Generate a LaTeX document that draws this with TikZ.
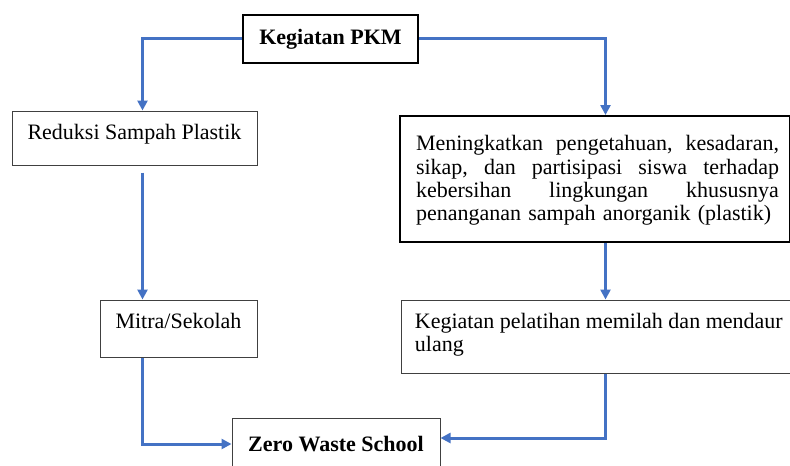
\documentclass[tikz,border=0pt]{standalone}
\usepackage{fontspec}
\setmainfont{Liberation Serif}
\usetikzlibrary{calc}
\usetikzlibrary{arrows.meta}

\definecolor{flowblue}{HTML}{4472C4}
\newcommand{\spreadline}[1]{\makebox[181.5pt][l]{#1}}

\begin{document}
\begin{tikzpicture}[x=0.5pt,y=-0.5pt,
  font=\fontsize{11}{11.7}\selectfont,
  frame/.style={draw=black!75, line width=0.5pt, inner sep=0pt},
  thickframe/.style={draw=black, line width=1pt, inner sep=0pt},
  txt/.style={inner sep=0pt},
  flow/.style={flowblue, line width=1.5pt, -{Triangle[length=5pt,width=5pt]}}]
\useasboundingbox (0,0) rectangle (790,465);

% boxes
\node[thickframe, minimum width=87.5pt, minimum height=24pt] (pkm) at (330.5,39) {\bfseries Kegiatan PKM};
\node[frame, minimum width=122.5pt, minimum height=27pt] (reduksi) at (134.5,138) {};
\node[thickframe, minimum width=195pt, minimum height=63pt] (tujuan) at (594.5,179) {};
\node[frame, minimum width=78.5pt, minimum height=28.5pt] (mitra) at (178.5,328.5) {};
\node[frame, minimum width=196pt, minimum height=36.5pt] (latih) at (597,336.5) {};
\node[frame, minimum width=104pt, minimum height=26pt] (zero) at (336,444) {\bfseries Zero Waste School};

% texts
\node[txt, anchor=base] (reduksiTxt) at ($(reduksi.north)+(0,29)$) {Reduksi Sampah Plastik};
\node[txt, anchor=base] (mitraTxt) at ($(mitra.north)+(0,29)$) {Mitra/Sekolah};
\node[txt, align=left, text width=181.5pt] (tujuanTxt) at ($(tujuan.center)+(3,1.5)$)
  {\spreadline{Meningkatkan\hfill pengetahuan,\hfill kesadaran,}\\
   \spreadline{sikap,\hfill dan\hfill partisipasi\hfill siswa\hfill terhadap}\\
   \spreadline{kebersihan\hfill lingkungan\hfill khususnya}\\
   penanganan sampah anorganik (plastik)};
\node[txt, align=left, anchor=north west] (latihTxt) at ($(latih.north west)+(14,13)$)
  {Kegiatan pelatihan memilah dan mendaur\\ulang};

% arrows
\draw[flow] (pkm.west) -| ($(reduksi.north west)+(131,0)$);
\draw[flow] (pkm.east) -| ($(tujuan.north west)+(207,0)$);
\draw[flow] ($(reduksi.south west)+(131,7)$) -- ($(mitra.north west)+(43,0)$);
\draw[flow] ($(tujuan.south west)+(207,0)$) -- ($(latih.north west)+(205,0)$);
\draw[flow] ($(mitra.south west)+(43,0)$) |- (zero.west);
\draw[flow] ($(latih.south west)+(205,0)$) |- ($(zero.east)+(0,-6)$);
\end{tikzpicture}
\end{document}
